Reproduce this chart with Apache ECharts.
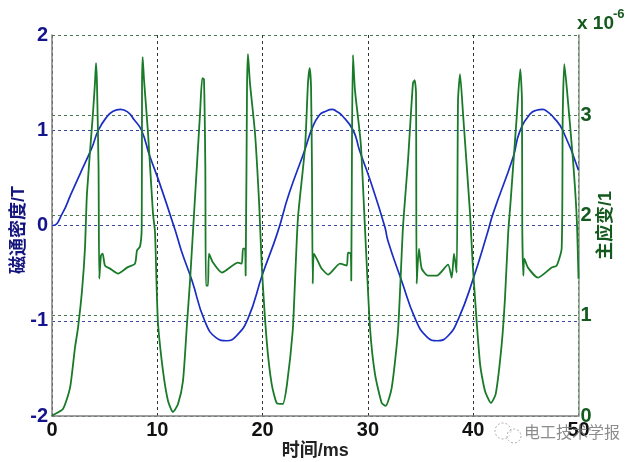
<!DOCTYPE html>
<html><head><meta charset="utf-8">
<style>html,body{margin:0;padding:0;background:#fff}#c{width:640px;height:462px}</style>
<script src="https://cdn.jsdelivr.net/npm/echarts@6/dist/echarts.min.js"></script>
</head><body><div id="c"></div>
<script>
const fluxTime=[0,0.1,1,1.8,2.7,3.8,4.4,5.2,5.8,6.5,7.2,7.8,8.5,9.25,10.2,11.7,12.3,13.3,14.5,15.6,16.6,17.5,18.6,20,21.4,22.5,24,24.7,25.4,26,26.6,27,27.5,28.6,29.2,30.2,31.6,31.9,33.2,34.5,35.6,36.6,37.6,38.6,40,41.4,41.9,43.8,44.4,45.4,46,46.6,47.1,47.6,48.5,50];
const fluxValue=[0,0,0.13,0.33,0.55,0.82,1.0,1.14,1.2,1.22,1.19,1.11,1.0,0.74,0.45,-0.05,-0.27,-0.58,-1.0,-1.18,-1.21,-1.16,-0.98,-0.51,-0.08,0.33,0.79,1.02,1.16,1.2,1.22,1.2,1.16,1.0,0.79,0.48,-0.01,-0.16,-0.58,-0.98,-1.17,-1.21,-1.16,-0.98,-0.56,-0.06,0.13,0.72,0.98,1.17,1.21,1.22,1.19,1.14,1.0,0.58];
const strainTime=[0,0.1,1.04,1.71,2.18,2.47,2.85,3.13,3.32,3.89,4.08,4.18,4.27,4.42,4.49,4.65,4.81,5.03,5.51,6.27,7.12,7.88,8.07,8.36,8.52,8.55,8.61,8.74,9.12,9.59,9.78,9.94,10.07,10.54,11.02,11.49,11.97,12.44,12.82,13.11,13.49,14.06,14.27,14.43,14.56,14.62,14.81,14.91,15.29,16.14,17.66,18.02,18.14,18.33,18.39,18.52,18.61,18.8,19.28,19.69,19.91,20.39,20.86,21.34,21.91,22.32,22.86,23.08,23.36,24.03,24.31,24.47,24.6,24.69,24.76,24.88,25.45,25.61,26.21,27.35,27.99,28.11,28.37,28.42,28.49,28.58,28.77,29.32,29.72,30.2,30.67,31.31,31.69,32.26,32.86,33.33,33.81,34.28,34.44,34.57,34.63,34.85,35.11,35.71,36.56,37.61,37.96,38.18,38.43,38.56,38.75,39.03,39.7,39.95,40.65,41.12,41.69,42.14,42.71,43.02,43.33,43.56,44.13,44.47,44.63,44.66,44.76,44.85,45.2,46.15,47.45,47.93,48.4,48.5,48.65,48.88,49.48,49.83,50];
const strainValue=[0,0.01,0.07,0.28,0.68,0.88,1.25,1.67,2.22,3.02,3.32,3.52,3.32,2.48,1.37,1.6,1.62,1.5,1.47,1.42,1.48,1.52,1.65,1.69,1.88,3.32,3.58,3.35,2.82,2.02,1.84,1.28,0.92,0.45,0.15,0.04,0.12,0.35,0.92,1.35,2.02,3.02,3.37,3.36,2.48,1.3,1.3,1.62,1.53,1.43,1.53,1.52,1.67,1.67,1.4,3.28,3.61,3.32,2.82,2.08,1.52,0.75,0.32,0.13,0.12,0.32,0.85,1.35,1.98,2.68,3.32,3.47,3.28,2.45,1.32,1.62,1.5,1.47,1.41,1.52,1.5,1.63,1.62,1.35,2.75,3.6,3.25,2.72,1.88,0.88,0.42,0.13,0.1,0.28,0.85,1.88,2.55,3.32,3.35,3.22,1.32,1.67,1.47,1.4,1.4,1.51,1.38,1.62,1.43,3.15,3.41,3.02,2.02,1.52,0.52,0.25,0.13,0.22,0.72,1.18,1.84,2.15,2.98,3.46,3.15,1.88,1.4,1.57,1.48,1.38,1.48,1.5,1.67,2.98,3.51,3.28,2.55,1.98,1.37];
const xTicks=[0,10,20,30,40,50];
const leftTicks=[-2,-1,0,1,2];
const rightTicks=[0,1,2,3];
const xName='时间/ms', leftName='磁通密度/T', rightName='主应变/1';
const zip=(a,b)=>a.map((v,i)=>[v,b[i]]);
const font='"Liberation Sans",Arial,sans-serif';
const cjk='"Liberation Sans","Noto Sans CJK SC",sans-serif';
const chart=echarts.init(document.getElementById('c'),null,{renderer:'canvas'});
chart.setOption({
  animation:false,backgroundColor:'#fff',
  grid:{left:52,right:61.5,top:35,bottom:46,containLabel:false,outerBoundsMode:'none'},
  xAxis:{type:'value',min:0,max:50,interval:10,
    name:xName,nameLocation:'middle',nameGap:26,nameMoveOverlap:false,
    nameTextStyle:{color:'#222',fontSize:18,fontWeight:'bold',fontFamily:cjk},
    axisLine:{show:true,onZero:false,lineStyle:{color:'#808080',width:1.5}},
    axisTick:{show:false},
    axisLabel:{color:'#111',fontSize:20,fontWeight:'bold',fontFamily:font,margin:4,showMinLabel:true,showMaxLabel:true},
    splitLine:{show:true,lineStyle:{color:'#333',type:[3,3],width:1}}},
  yAxis:[
    {type:'value',min:-2,max:2,interval:1,position:'left',
     name:leftName,nameLocation:'middle',nameGap:24,nameRotate:90,nameMoveOverlap:false,
     nameTextStyle:{color:'#14147e',fontSize:18,fontWeight:'bold',fontFamily:cjk,padding:[0,9,0,0]},
     axisLine:{show:true,onZero:false,lineStyle:{color:'#808080',width:1.5}},axisTick:{show:false},
     axisLabel:{color:'#14148c',fontSize:20,fontWeight:'bold',fontFamily:font,margin:4},
     splitLine:{show:true,lineStyle:{color:'#3a4a9a',type:[3,3],width:1}}},
    {type:'value',min:0,max:3.8,interval:1,position:'right',
     name:rightName,nameLocation:'middle',nameGap:19,nameRotate:90,nameMoveOverlap:false,
     nameTextStyle:{color:'#145a1e',fontSize:18,fontWeight:'bold',fontFamily:cjk},
     axisLine:{show:true,onZero:false,lineStyle:{color:'#7f9a7f',width:1.5}},axisTick:{show:false},
     axisLabel:{color:'#145a1e',fontSize:20,fontWeight:'bold',fontFamily:font,margin:2,
       formatter:v=>rightTicks.includes(v)?String(v):''},
     splitLine:{show:true,lineStyle:{color:'#4a7a50',type:[3,3],width:1}}}
  ],
  series:[
    {type:'line',yAxisIndex:0,data:zip(fluxTime,fluxValue),showSymbol:false,smooth:0.5,
     lineStyle:{color:'#1a2ec4',width:1.7},z:3},
    {type:'line',yAxisIndex:1,data:zip(strainTime,strainValue),showSymbol:false,smooth:0.2,
     lineStyle:{color:'#197a28',width:1.8},z:4}
  ],
  graphic:[
    {type:'text',left:577,top:14,style:{text:'x 10',fontSize:19,fontWeight:'bold',fontFamily:font,fill:'#145a1e'}},
    {type:'text',left:613,top:8,style:{text:'-6',fontSize:13,fontWeight:'bold',fontFamily:font,fill:'#145a1e'}},
    {type:'text',left:524,top:424,z:20,style:{text:'电工技术学报',fontSize:16,fontFamily:'"Noto Sans CJK SC",sans-serif',fill:'rgba(120,120,120,0.85)'}},
    {type:'circle',z:20,shape:{cx:503,cy:431,r:8},style:{fill:'rgba(255,255,255,0.5)',stroke:'#aaa',lineWidth:1,lineDash:[2,2]}},
    {type:'circle',z:20,shape:{cx:514,cy:436,r:7},style:{fill:'rgba(255,255,255,0.5)',stroke:'#aaa',lineWidth:1,lineDash:[2,2]}}
  ]
});
</script></body></html>
